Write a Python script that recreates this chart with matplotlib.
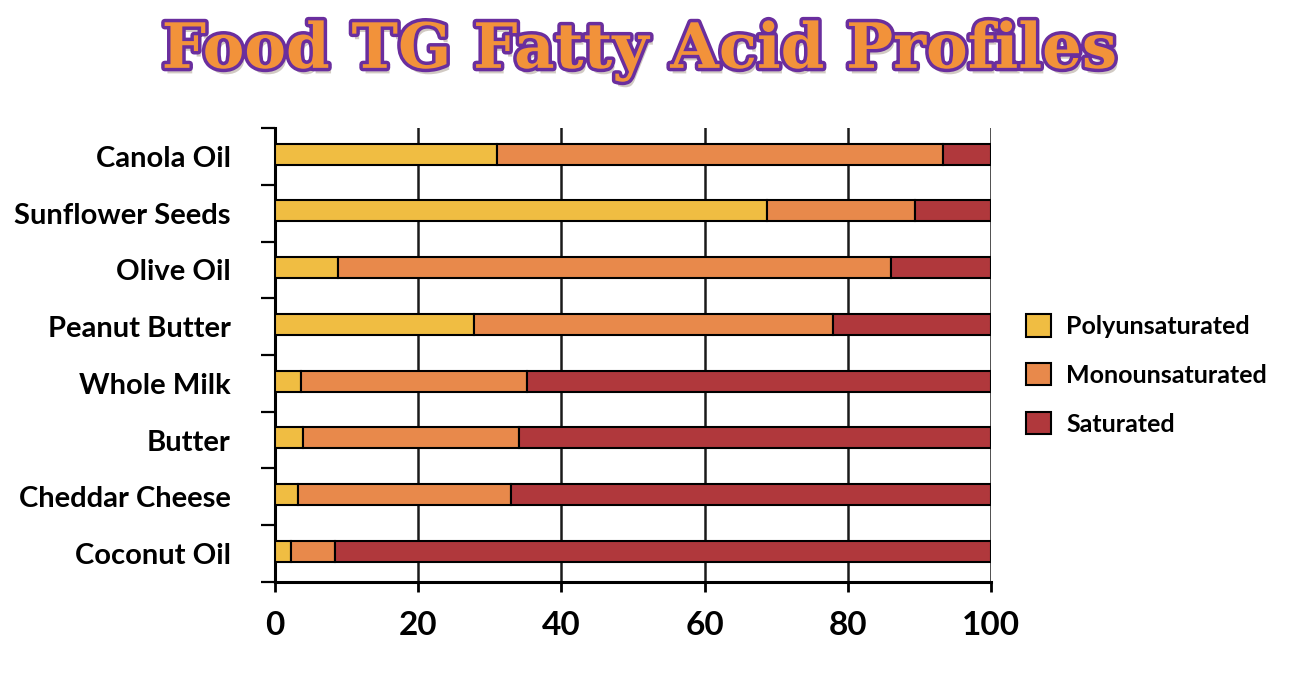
import numpy as np
import matplotlib
matplotlib.use('Agg')
import matplotlib.pyplot as plt
import matplotlib.patheffects as pe
from matplotlib.patches import Patch

# Данные (доли жирных кислот, %)
foods = ['Canola Oil', 'Sunflower Seeds', 'Olive Oil', 'Peanut Butter',
         'Whole Milk', 'Butter', 'Cheddar Cheese', 'Coconut Oil']
poly = [31.0, 68.7, 8.8, 27.8, 3.6, 3.9, 3.2, 2.2]
mono = [62.3, 20.7, 77.2, 50.1, 31.6, 30.2, 29.8, 6.2]
sat = [6.7, 10.6, 14.0, 22.1, 64.8, 65.9, 67.0, 91.6]
series_names = ['Polyunsaturated', 'Monounsaturated', 'Saturated']
colors = ['#F0BD42', '#E8894B', '#B0383C']
x_ticks = [0, 20, 40, 60, 80, 100]

plt.rcParams['font.family'] = ['Lato', 'DejaVu Sans']

fig = plt.figure(figsize=(13, 6.78), dpi=100)
ax = fig.add_axes([0.2115, 0.1416, 0.5508, 0.6696])

y = np.arange(len(foods))
left = np.zeros(len(foods))
for vals, col, name in zip([poly, mono, sat], colors, series_names):
    ax.barh(y - 0.04, vals, left=left, height=0.37, color=col, edgecolor='black',
            linewidth=1.5, label=name, zorder=3)
    left += np.array(vals)

ax.set_xlim(0, 100)
ax.set_ylim(len(foods) - 0.5, -0.5)

# Оси и сетка
for s in ['top', 'right']:
    ax.spines[s].set_visible(False)
ax.spines['left'].set_linewidth(2.2)
ax.spines['bottom'].set_linewidth(2.2)
ax.set_xticks(x_ticks)
ax.set_xticklabels([str(t) for t in x_ticks], fontsize=24, fontweight='bold')
ax.tick_params(axis='x', direction='out', length=7, width=2, pad=14)
ax.xaxis.grid(True, color='#1a1a1a', linewidth=1.8, zorder=4)

ax.set_yticks(y)
ax.set_yticklabels(foods, fontsize=21, fontweight='bold')
ax.tick_params(axis='y', which='major', length=0, pad=32)
ax.set_yticks(np.arange(-0.5, len(foods)), minor=True)
ax.tick_params(axis='y', which='minor', direction='out', length=10, width=1.6)

# Легенда
handles = [Patch(facecolor=c, edgecolor='black', linewidth=1.5) for c in colors]
fig.legend(handles, series_names, loc='center left', bbox_to_anchor=(0.772, 0.447),
           frameon=False, prop={'size': 18, 'weight': 'bold'},
           handlelength=1.0, handleheight=1.0, labelspacing=1.0, handletextpad=0.6)

# Заголовок
fig.text(0.492, 0.925, 'Food TG Fatty Acid Profiles', ha='center', va='center',
         fontsize=45, fontweight='bold', family='DejaVu Serif', color='#F2923A',
         path_effects=[pe.SimplePatchShadow(offset=(2, -4), alpha=0.25),
                       pe.withStroke(linewidth=5, foreground='#6A2E9E')])

fig.savefig('out.png', dpi=100, facecolor='white')
